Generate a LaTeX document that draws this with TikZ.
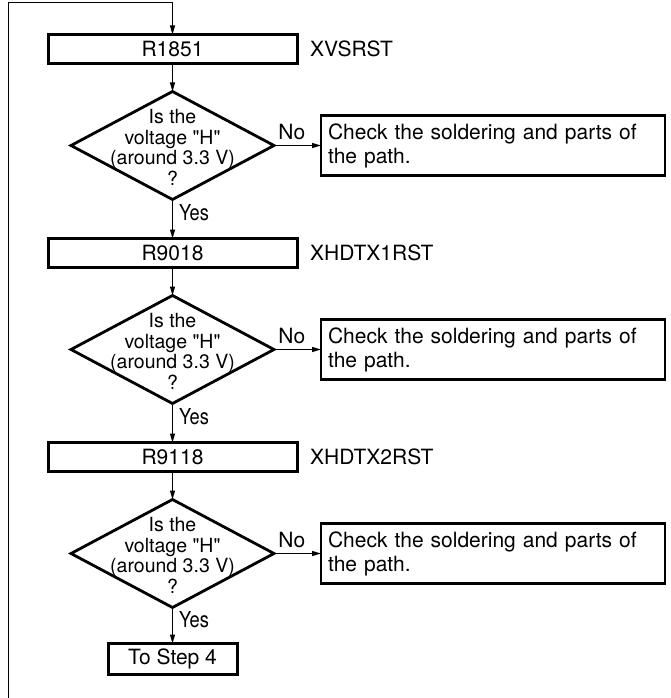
\documentclass[tikz,border=0pt]{standalone}
\usepackage{fontspec}
\setmainfont{TeX Gyre Heros}
\newfontfamily\narrowsf[FakeStretch=0.83]{TeX Gyre Heros}
\usetikzlibrary{arrows.meta,positioning,shapes.geometric}

\newcommand{\voltq}{Is the\\voltage \textquotedbl H\textquotedbl\\(around 3.3 V)\\?}

\begin{document}
\begin{tikzpicture}[x=1pt,y=1pt,
  stepbox/.style={draw,line width=3pt,outer sep=0pt,minimum width=249pt,
                  minimum height=29pt,inner sep=0pt,font=\fontsize{21}{25}\selectfont},
  query/.style={draw,diamond,line width=2.8pt,outer sep=0pt,inner sep=0pt,
                minimum width=203pt,minimum height=108pt,
                label={[qtext]center:\voltq}},
  qtext/.style={align=center,inner sep=0pt,yshift=-2pt,
                font=\fontsize{19.5}{20.7}\selectfont},
  fixbox/.style={draw,line width=2.6pt,outer sep=0pt,minimum width=344pt,
                 minimum height=60pt,align=left,text width=330pt,inner xsep=7pt,
                 font=\fontsize{21}{24}\selectfont},
  endbox/.style={draw,line width=3pt,outer sep=0pt,minimum width=129pt,
                 minimum height=31pt,inner sep=0pt,font=\fontsize{21}{25}\selectfont},
  sig/.style={anchor=west,inner sep=0pt,font=\fontsize{21}{25}\selectfont},
  arr/.style={-{Triangle[length=9pt,width=5pt]},line width=1.2pt},
  yes/.style={anchor=west,inner sep=0pt,xshift=6pt,font=\narrowsf\fontsize{22}{25}\selectfont},
  no/.style={above,inner sep=5pt,font=\fontsize{21}{24}\selectfont}]
\useasboundingbox (0,0) rectangle (670,-698);

% main column
\node[stepbox] (r1851) at (172.5,-49) {R1851};
\node[query,below=28pt of r1851] (q1) {};
\node[stepbox,below=39pt of q1] (r9018) {R9018};
\node[query,below=28pt of r9018] (q2) {};
\node[stepbox,below=39pt of q2] (r9118) {R9118};
\node[query,below=28pt of r9118] (q3) {};
\node[endbox,below=36pt of q3] (step4) {To Step 4};

% signal names
\node[sig,right=13pt of r1851] (s1) {XVSRST};
\node[sig,right=13pt of r9018] (s2) {XHDTX1RST};
\node[sig,right=13pt of r9118] (s3) {XHDTX2RST};

% NG branches
\node[fixbox,right=47pt of q1] (fix1) {Check the soldering and parts of\\the path.};
\node[fixbox,right=47pt of q2] (fix2) {Check the soldering and parts of\\the path.};
\node[fixbox,right=47pt of q3] (fix3) {Check the soldering and parts of\\the path.};

\draw[arr](r1851)--(q1);\draw[arr](r9018)--(q2);\draw[arr](r9118)--(q3);
\draw[arr](q1.south)--node[yes,pos=0.33]{Yes}(r9018.north);
\draw[arr](q2.south)--node[yes,pos=0.33]{Yes}(r9118.north);
\draw[arr](q3.south)--node[yes,pos=0.33]{Yes}(step4.north);
\draw[arr](q1.east)--node[no,pos=0.38]{No}(fix1.west);
\draw[arr](q2.east)--node[no,pos=0.38]{No}(fix2.west);
\draw[arr](q3.east)--node[no,pos=0.38]{No}(fix3.west);

% return line
\coordinate (loopbot) at (8,-698);
\coordinate (looptop) at (8,-2.5);
\draw[arr,line width=1pt](loopbot)--(looptop)-|(r1851.north);
\end{tikzpicture}
\end{document}
